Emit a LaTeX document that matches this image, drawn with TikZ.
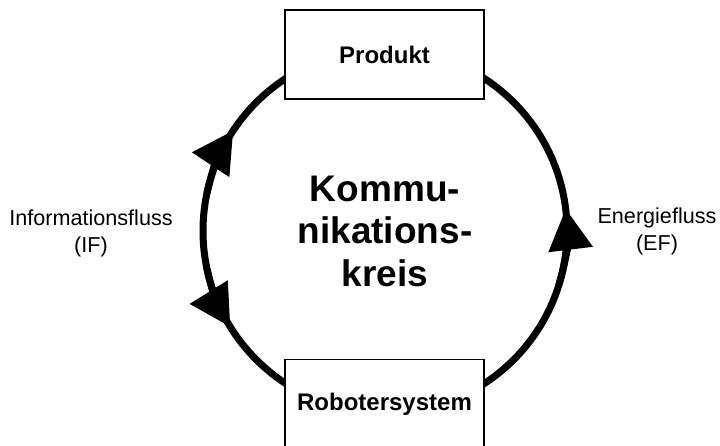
\documentclass[tikz,border=0pt]{standalone}
\usepackage{fontspec}
\setmainfont{Liberation Sans}
\usetikzlibrary{arrows.meta,positioning}

\begin{document}
\begin{tikzpicture}[x=1pt,y=-1pt,
  box/.style={draw,line width=1.3pt,fill=white,minimum width=199pt,minimum height=89pt,
    inner sep=0pt,font=\bfseries\fontsize{24}{28}\selectfont},
  ring/.style={line width=7pt},
  flow/.style={line width=7pt,-{Triangle[length=41pt,width=43pt]}},
  lbl/.style={align=center,font=\fontsize{21.6}{27}\selectfont}]
\useasboundingbox (0,0) rectangle (720,446);
\coordinate (m) at (385,231);
\draw[ring] (m) circle[radius=182];
% flow arrows on the ring
\draw[flow] (m) ++(192:182) arc[start angle=192,end angle=213.5,radius=182];
\draw[flow] (m) ++(168:182) arc[start angle=168,end angle=148.2,radius=182];
\draw[flow] (m) ++(17:182) arc[start angle=17,end angle=-7,radius=182];
\node[box] (prod) at (384.5,54.5) {Produkt};
\node[box] (robo) at (384.5,404) {Robotersystem};
\node[align=center,font=\bfseries\fontsize{37}{42.5}\selectfont] (komm) at (m) {Kommu-\\nikations-\\kreis};
\node[lbl] (ifl) at (91,233) {Informationsfluss\\(IF)};
\node[lbl] (efl) at (657,231) {Energiefluss\\(EF)};
\end{tikzpicture}
\end{document}
